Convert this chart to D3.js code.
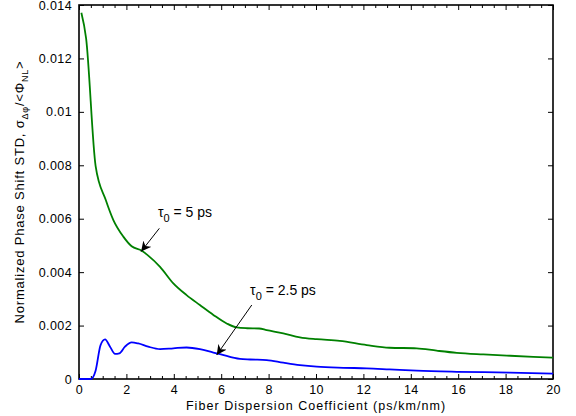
<!DOCTYPE html>
<html>
<head>
<meta charset="utf-8">
<script src="https://cdn.jsdelivr.net/npm/d3@7"></script>
<style>
  body { margin: 0; background: #fff; }
  text { font-family: "Liberation Sans", Arial, Helvetica, sans-serif; }
</style>
</head>
<body>
<script>
// valores
let xTicks = [0, 2, 4, 6, 8, 10, 12, 14, 16, 18, 20];
let yTicks = [0, 0.002, 0.004, 0.006, 0.008, 0.01, 0.012, 0.014];
let yTickLabels = ["0", "0.002", "0.004", "0.006", "0.008", "0.01", "0.012", "0.014"];

// tau0 = 5 ps (verde)
let d5x = [0.1, 0.3, 0.7, 1.13, 1.45, 1.87, 2.22, 2.65, 2.92, 3.42, 3.98, 4.54, 5.1, 5.67, 6.23, 6.65, 7.08, 7.6, 7.92, 8.62, 9.32, 10.03, 11.0, 12.14, 13.1, 14.25, 15.09, 15.94, 17.06, 18.19, 19.17, 20];
let d5y = [0.01371, 0.01275, 0.00798, 0.0067, 0.00595, 0.00533, 0.00497, 0.0048, 0.00462, 0.0042, 0.00358, 0.00314, 0.00277, 0.0024, 0.00208, 0.00193, 0.0019, 0.00189, 0.00183, 0.00171, 0.00156, 0.00149, 0.00143, 0.00127, 0.00117, 0.00115, 0.00106, 0.00098, 0.00092, 0.00087, 0.00083, 0.0008];

// tau0 = 2.5 ps (azul)
let d25x = [0, 0.5, 0.7, 0.91, 1.1, 1.31, 1.52, 1.7, 1.94, 2.22, 2.5, 2.92, 3.42, 3.98, 4.54, 5.1, 5.67, 5.95, 6.79, 7.22, 7.92, 8.62, 9.32, 10.03, 11.15, 12.14, 13.1, 14.25, 15.94, 18.19, 20];
let d25y = [0, 0, 0.00031, 0.00127, 0.00148, 0.00121, 0.00094, 0.00096, 0.00121, 0.00137, 0.00133, 0.00121, 0.00112, 0.00115, 0.00118, 0.00112, 0.00099, 0.00093, 0.00075, 0.00073, 0.00071, 0.00061, 0.00052, 0.00046, 0.00042, 0.0004, 0.00036, 0.00031, 0.00027, 0.00024, 0.0002];

// anotaciones: [texto x, texto y, cola x, cola y, punta x, punta y]
let note5 = [3.33, 0.00605, 3.39, 0.00564, 2.62, 0.00477];
let note25 = [7.22, 0.00314, 7.29, 0.00277, 5.81, 0.0009];

let WIDTH = 576, HEIGHT = 416;
let margin = {top: 5, right: 23, bottom: 37, left: 79};
let w = WIDTH - margin.left - margin.right;
let h = HEIGHT - margin.top - margin.bottom;

let svg = d3.select("body").append("svg")
    .attr("width", WIDTH)
    .attr("height", HEIGHT);

let g = svg.append("g").attr("transform", `translate(${margin.left},${margin.top})`);

let x = d3.scaleLinear().domain([0, 20]).range([0, w]);
let y = d3.scaleLinear().domain([0, 0.014]).range([h, 0]);

// ticks menores cada 0.5 en x
let minorX = d3.range(0, 20.01, 0.5).filter(v => v % 2 !== 0);

// ejes (ticks hacia adentro)
g.append("g").attr("transform", `translate(0,${h})`)
    .call(d3.axisBottom(x).tickValues(xTicks).tickSizeInner(-5).tickSizeOuter(0).tickPadding(6));
g.append("g")
    .call(d3.axisTop(x).tickValues(xTicks).tickSizeInner(-5).tickSizeOuter(0).tickFormat(""));
g.append("g")
    .call(d3.axisLeft(y).tickValues(yTicks).tickSizeInner(-5).tickSizeOuter(0).tickPadding(7)
        .tickFormat((d, i) => yTickLabels[i]));
g.append("g").attr("transform", `translate(${w},0)`)
    .call(d3.axisRight(y).tickValues(yTicks).tickSizeInner(-5).tickSizeOuter(0).tickFormat(""));

g.append("g").attr("transform", `translate(0,${h})`)
    .call(d3.axisBottom(x).tickValues(minorX).tickSizeInner(-3).tickSizeOuter(0).tickFormat(""));
g.append("g")
    .call(d3.axisTop(x).tickValues(minorX).tickSizeInner(-3).tickSizeOuter(0).tickFormat(""));

g.selectAll(".domain").remove();
g.selectAll(".tick line").attr("stroke", "#000").attr("stroke-width", 1);
g.selectAll(".tick text").attr("font-size", 12.5).attr("fill", "#000")
    .attr("letter-spacing", 0.4)
    .attr("font-family", "'Liberation Sans', Arial, sans-serif");

// caja
g.append("rect")
    .attr("x", 0).attr("y", 0).attr("width", w).attr("height", h)
    .attr("fill", "none").attr("stroke", "#000").attr("stroke-width", 1.6);

// curvas
let line = d3.line()
    .x(d => x(d[0]))
    .y(d => y(d[1]))
    .curve(d3.curveMonotoneX);

let series = [
    {xs: d5x, ys: d5y, color: "#008000"},
    {xs: d25x, ys: d25y, color: "#0000ff"}
];

g.selectAll(".serie")
    .data(series)
    .enter()
    .append("path")
        .attr("class", "serie")
        .attr("fill", "none")
        .attr("stroke", d => d.color)
        .attr("stroke-width", 1.8)
        .attr("d", d => line(d.xs.map((v, i) => [v, d.ys[i]])));

// flechas
svg.append("defs").append("marker")
    .attr("id", "arrow")
    .attr("viewBox", "0 0 10 10")
    .attr("refX", 10).attr("refY", 5)
    .attr("markerWidth", 10).attr("markerHeight", 10)
    .attr("markerUnits", "userSpaceOnUse")
    .attr("orient", "auto")
    .append("path")
        .attr("d", "M0,0 L10,5 L0,10 L3,5 Z")
        .attr("fill", "#000");

function annotate(n, sub, rest) {
    g.append("line")
        .attr("x1", x(n[2])).attr("y1", y(n[3]))
        .attr("x2", x(n[4])).attr("y2", y(n[5]))
        .attr("stroke", "#000").attr("stroke-width", 1)
        .attr("marker-end", "url(#arrow)");
    let t = g.append("text")
        .attr("x", x(n[0])).attr("y", y(n[1]))
        .attr("font-size", 14).attr("fill", "#000");
    t.append("tspan").text("τ");
    t.append("tspan").attr("dy", 5).attr("font-size", 11).text(sub);
    t.append("tspan").attr("dy", -5).text(rest);
}
annotate(note5, "0", " = 5 ps");
annotate(note25, "0", " = 2.5 ps");

// titulos
svg.append("text")
    .attr("x", margin.left + w / 2)
    .attr("y", 410)
    .attr("text-anchor", "middle")
    .attr("font-size", 12.5)
    .attr("letter-spacing", 1.05)
    .text("Fiber Dispersion Coefficient (ps/km/nm)");

let yt = svg.append("text")
    .attr("transform", `translate(24,${margin.top + h / 2}) rotate(-90)`)
    .attr("text-anchor", "middle")
    .attr("font-size", 13)
    .attr("letter-spacing", 0.8);
yt.append("tspan").text("Normalized Phase Shift STD, σ");
yt.append("tspan").attr("dy", 4).attr("font-size", 9).text("Δφ");
yt.append("tspan").attr("dy", -4).text("/<Φ");
yt.append("tspan").attr("dy", 4).attr("font-size", 9).text("NL");
yt.append("tspan").attr("dy", -4).text(">");
</script>
</body>
</html>
